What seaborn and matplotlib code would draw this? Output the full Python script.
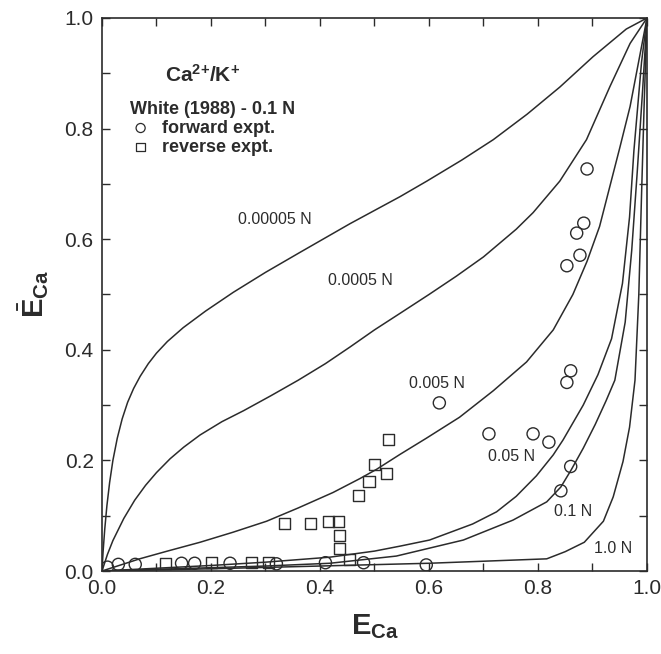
import numpy as np
import pandas as pd
import matplotlib
matplotlib.use("Agg")
import matplotlib.pyplot as plt
import seaborn as sns

# ---------------- data ----------------
curve_names = ["0.00005 N", "0.0005 N", "0.005 N", "0.05 N", "0.1 N", "1.0 N"]

e_00005 = [0, 0.002, 0.005, 0.009, 0.014, 0.02, 0.028, 0.037, 0.047, 0.058, 0.07, 0.085,
           0.1, 0.12, 0.149, 0.19, 0.241, 0.3, 0.363, 0.455, 0.547, 0.596, 0.66, 0.718,
           0.78, 0.84, 0.901, 0.962, 1.0]
eb_00005 = [0, 0.035, 0.075, 0.118, 0.16, 0.2, 0.24, 0.275, 0.305, 0.33, 0.352, 0.375,
            0.394, 0.415, 0.44, 0.47, 0.504, 0.54, 0.576, 0.628, 0.677, 0.705, 0.743, 0.78,
            0.826, 0.875, 0.93, 0.98, 1.0]

e_0005 = [0, 0.01, 0.02, 0.04, 0.06, 0.08, 0.1, 0.125, 0.15, 0.18, 0.22, 0.26, 0.31, 0.36,
          0.41, 0.455, 0.5, 0.547, 0.6, 0.65, 0.7, 0.76, 0.791, 0.84, 0.889, 0.932, 0.969, 1.0]
eb_0005 = [0, 0.03, 0.055, 0.095, 0.128, 0.155, 0.178, 0.203, 0.224, 0.246, 0.27, 0.29,
           0.317, 0.345, 0.375, 0.405, 0.436, 0.466, 0.5, 0.533, 0.568, 0.618, 0.648, 0.705,
           0.78, 0.876, 0.954, 1.0]

e_005 = [0, 0.069, 0.12, 0.18, 0.24, 0.302, 0.36, 0.424, 0.473, 0.504, 0.547, 0.595, 0.656,
         0.718, 0.779, 0.828, 0.864, 0.89, 0.913, 0.95, 0.969, 1.0]
eb_005 = [0, 0.022, 0.036, 0.052, 0.07, 0.09, 0.114, 0.142, 0.167, 0.184, 0.211, 0.24, 0.278,
          0.326, 0.378, 0.436, 0.5, 0.56, 0.623, 0.765, 0.84, 1.0]

e_05 = [0, 0.1, 0.2, 0.3, 0.418, 0.5, 0.547, 0.601, 0.68, 0.724, 0.76, 0.797, 0.828, 0.846,
        0.883, 0.91, 0.935, 0.955, 0.968, 0.976, 0.99, 1.0]
eb_05 = [0, 0.005, 0.01, 0.016, 0.025, 0.036, 0.045, 0.056, 0.085, 0.107, 0.135, 0.172, 0.21,
         0.237, 0.3, 0.355, 0.42, 0.52, 0.64, 0.76, 0.92, 1.0]

e_1 = [0, 0.1, 0.2, 0.3, 0.418, 0.54, 0.663, 0.754, 0.816, 0.842, 0.861, 0.883, 0.905, 0.925,
       0.941, 0.96, 0.972, 0.982, 0.992, 1.0]
eb_1 = [0, 0.003, 0.006, 0.009, 0.014, 0.027, 0.056, 0.092, 0.125, 0.152, 0.183, 0.222, 0.265,
        0.308, 0.345, 0.45, 0.58, 0.72, 0.87, 1.0]

e_10 = [0, 0.2, 0.4, 0.6, 0.816, 0.85, 0.885, 0.92, 0.938, 0.956, 0.968, 0.978, 0.985, 0.99,
        0.995, 1.0]
eb_10 = [0, 0.004, 0.009, 0.014, 0.022, 0.035, 0.052, 0.09, 0.134, 0.198, 0.26, 0.345, 0.5,
         0.68, 0.85, 1.0]

fwd_e = [0.01, 0.03, 0.061, 0.146, 0.17, 0.235, 0.32, 0.41, 0.48, 0.595, 0.619, 0.71, 0.791,
         0.82, 0.842, 0.86, 0.853, 0.86, 0.853, 0.877, 0.871, 0.884, 0.89]
fwd_eb = [0.007, 0.012, 0.012, 0.014, 0.014, 0.014, 0.013, 0.015, 0.015, 0.011, 0.304, 0.248,
          0.248, 0.233, 0.145, 0.189, 0.341, 0.362, 0.552, 0.571, 0.611, 0.629, 0.727]

rev_e = [0.117, 0.201, 0.274, 0.305, 0.335, 0.383, 0.416, 0.434, 0.435, 0.435, 0.454, 0.471,
         0.49, 0.5, 0.522, 0.525]
rev_eb = [0.014, 0.016, 0.015, 0.015, 0.086, 0.086, 0.09, 0.09, 0.065, 0.041, 0.021, 0.137,
          0.162, 0.192, 0.177, 0.237]

x_ticks = [0.0, 0.2, 0.4, 0.6, 0.8, 1.0]
y_ticks = [0.0, 0.2, 0.4, 0.6, 0.8, 1.0]

# ---------------- style ----------------
sns.set_theme(style="ticks")
plt.rcParams["font.family"] = ["Liberation Sans", "DejaVu Sans"]
plt.rcParams["mathtext.fontset"] = "custom"
plt.rcParams["mathtext.rm"] = "Liberation Sans"
plt.rcParams["mathtext.it"] = "Liberation Sans:italic"
plt.rcParams["mathtext.bf"] = "Liberation Sans:bold"

INK = "#2b2b2b"

fig = plt.figure(figsize=(6.61, 6.54), dpi=100)
ax = fig.add_axes([0.1543, 0.1269, 0.8245, 0.8456])

curves = [(e_00005, eb_00005), (e_0005, eb_0005), (e_005, eb_005),
          (e_05, eb_05), (e_1, eb_1), (e_10, eb_10)]
for name, (ex, ey) in zip(curve_names, curves):
    df = pd.DataFrame({"E": ex, "Eb": ey})
    sns.lineplot(data=df, x="E", y="Eb", sort=False, color=INK, linewidth=1.1,
                 ax=ax, legend=False)

sns.scatterplot(x=fwd_e, y=fwd_eb, marker="o", s=76, color=INK, facecolor="none",
                edgecolor=INK, linewidth=1.0, ax=ax, label="forward expt.", zorder=3)
sns.scatterplot(x=rev_e, y=rev_eb, marker="s", s=64, color=INK, facecolor="none",
                edgecolor=INK, linewidth=1.0, ax=ax, label="reverse expt.", zorder=3)

# curve labels
label_pos = {"0.00005 N": (0.317, 0.635), "0.0005 N": (0.475, 0.526),
             "0.005 N": (0.614, 0.339), "0.05 N": (0.751, 0.207),
             "0.1 N": (0.865, 0.107), "1.0 N": (0.938, 0.041)}
for name in curve_names:
    x, y = label_pos[name]
    ax.text(x, y, name, ha="center", va="center", fontsize=11.5, color=INK)

ax.text(0.115, 0.897, r"Ca$^{\mathbf{2{+}}}$/K$^{\mathbf{{+}}}$", fontsize=15,
        fontweight="bold", color=INK, ha="left", va="center", transform=ax.transAxes)

leg = ax.legend(title="White (1988) - 0.1 N", loc="upper left",
                bbox_to_anchor=(0.051, 0.85), frameon=False, borderpad=0,
                handletextpad=0.6, labelspacing=0.1, markerscale=0.75,
                borderaxespad=0, alignment="left", handlelength=1.2,
                prop={"weight": "bold", "size": 13},
                title_fontproperties={"weight": "bold", "size": 13})
for t in leg.get_texts():
    t.set_color(INK)
leg.get_title().set_color(INK)
for h in leg.legend_handles:
    h.set_facecolor("none")
    h.set_edgecolor(INK)
    h.set_linewidth(0.9)

ax.set_xlim(0, 1)
ax.set_ylim(0, 1)
ax.set_xticks(x_ticks)
ax.set_yticks(y_ticks)
ax.set_xticklabels([f"{v:.1f}" for v in x_ticks])
ax.set_yticklabels([f"{v:.1f}" for v in y_ticks])
ax.set_xticks(np.arange(0.1, 1.0, 0.2), minor=True)
ax.set_yticks(np.arange(0.1, 1.0, 0.2), minor=True)
ax.tick_params(which="both", direction="in", length=6, width=1.0, color=INK,
               top=True, right=True, labelsize=15, labelcolor=INK, pad=6)
for sp in ax.spines.values():
    sp.set_visible(True)
    sp.set_linewidth(1.2)
    sp.set_color(INK)

ax.set_xlabel(r"$\mathbf{E}_{\mathbf{Ca}}$", fontsize=21, color=INK, labelpad=10)
ax.set_ylabel(r"$\bar{\mathbf{E}}_{\mathbf{Ca}}$", fontsize=21, color=INK, labelpad=10)

fig.savefig("out.png", dpi=100)
